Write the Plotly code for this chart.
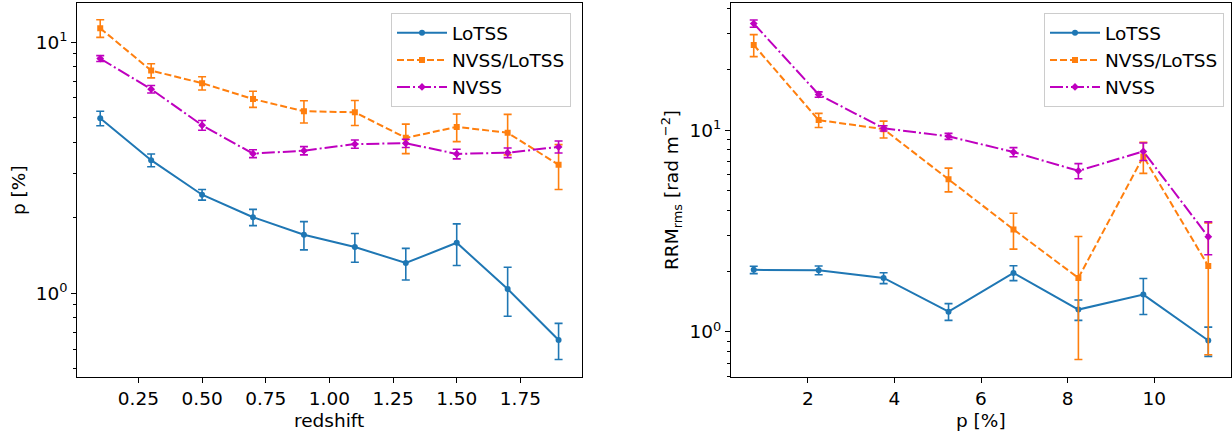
import plotly.graph_objects as go
from plotly.subplots import make_subplots

# ---- data: left panel (polarisation fraction vs redshift) ----
redshift = [0.1, 0.3, 0.5, 0.7, 0.9, 1.1, 1.3, 1.5, 1.7, 1.9]
p_lotss = [4.98, 3.39, 2.47, 2.01, 1.71, 1.53, 1.32, 1.59, 1.04, 0.652]
p_lotss_err = [0.33, 0.20, 0.12, 0.15, 0.22, 0.20, 0.19, 0.30, 0.23, 0.107]
p_ratio = [11.37, 7.71, 6.87, 5.94, 5.31, 5.26, 4.16, 4.60, 4.36, 3.25]
p_ratio_err = [0.92, 0.50, 0.42, 0.44, 0.54, 0.60, 0.56, 0.58, 0.80, 0.66]
p_nvss = [8.61, 6.50, 4.67, 3.60, 3.70, 3.93, 3.96, 3.59, 3.63, 3.83]
p_nvss_err = [0.23, 0.22, 0.21, 0.13, 0.14, 0.15, 0.15, 0.16, 0.16, 0.21]

# ---- data: right panel (RRM_rms vs p) ----
pbin = [0.75, 2.25, 3.75, 5.25, 6.75, 8.25, 9.75, 11.25]
rrm_lotss = [2.03, 2.02, 1.85, 1.26, 1.96, 1.29, 1.53, 0.906]
rrm_lotss_err = [0.085, 0.10, 0.115, 0.12, 0.165, 0.15, 0.31, 0.15]
rrm_ratio = [26.4, 11.2, 10.1, 5.71, 3.22, 1.85, 7.4, 2.12]
rrm_ratio_err = [3.3, 0.9, 0.97, 0.77, 0.65, 1.12, 1.3, 1.35]
rrm_nvss = [33.7, 15.0, 10.2, 9.31, 7.78, 6.28, 7.84, 2.96]
rrm_nvss_err = [1.4, 0.45, 0.30, 0.32, 0.40, 0.54, 0.78, 0.55]

names = ["LoTSS", "NVSS/LoTSS", "NVSS"]
colors = ["#1f77b4", "#ff7f0e", "#bf00bf"]
dashes = ["solid", "7px,3px", "13px,3px,2px,3px"]
symbols = ["circle", "square", "diamond"]

FONT = "DejaVu Sans, Liberation Sans, sans-serif"
FS = 18.5

fig = make_subplots(rows=1, cols=2)

left_series = [(p_lotss, p_lotss_err), (p_ratio, p_ratio_err), (p_nvss, p_nvss_err)]
right_series = [(rrm_lotss, rrm_lotss_err), (rrm_ratio, rrm_ratio_err), (rrm_nvss, rrm_nvss_err)]

for col, xs, series, leg in [(1, redshift, left_series, "legend"), (2, pbin, right_series, "legend2")]:
    for i, (ys, es) in enumerate(series):
        fig.add_trace(go.Scatter(
            x=xs, y=ys, name=names[i], mode="lines+markers",
            line=dict(color=colors[i], width=2, dash=dashes[i]),
            marker=dict(color=colors[i], size=6, symbol=symbols[i]),
            error_y=dict(type="data", array=es, visible=True, color=colors[i],
                         thickness=1.6, width=4),
            legend=leg,
        ), row=1, col=col)

axis_common = dict(
    showline=True, mirror=True, linecolor="black", linewidth=1,
    ticks="outside", ticklen=5, tickwidth=1, tickcolor="black",
    showgrid=False, zeroline=False, automargin=False,
    tickfont=dict(family=FONT, size=FS, color="black"),
)

ydom = [1 - 376.7 / 436, 1 - 3.3 / 436]

legend_common = dict(
    yanchor="top", xanchor="right",
    bgcolor="rgba(255,255,255,0.8)", bordercolor="#cccccc", borderwidth=1,
    font=dict(family=FONT, size=FS, color="black"), itemwidth=50,
    tracegroupgap=4,
)

fig.update_layout(
    width=1232, height=436,
    margin=dict(l=0, r=0, t=0, b=0),
    paper_bgcolor="white", plot_bgcolor="white",
    font=dict(family=FONT, size=FS, color="black"),
    xaxis=dict(domain=[77.3 / 1232, 581.5 / 1232], range=[0.01, 1.99],
               tickvals=[0.25, 0.5, 0.75, 1.0, 1.25, 1.5, 1.75],
               ticktext=["0.25", "0.50", "0.75", "1.00", "1.25", "1.50", "1.75"],
               **axis_common),
    yaxis=dict(domain=ydom, type="log", range=[-0.332, 1.155],
               tickvals=[1, 10], ticktext=["10<sup>0</sup>", "10<sup>1</sup>"],
               minor=dict(tickvals=[0.5, 0.6, 0.7, 0.8, 0.9, 2, 3, 4, 5, 6, 7, 8, 9],
                          ticks="outside", ticklen=3, tickwidth=0.8, tickcolor="black",
                          showgrid=False),
               **axis_common),
    xaxis2=dict(domain=[731 / 1232, 1231 / 1232], range=[0.225, 11.775],
                tickvals=[2, 4, 6, 8, 10], ticktext=["2", "4", "6", "8", "10"],
                **axis_common),
    yaxis2=dict(domain=ydom, type="log", range=[-0.222, 1.628],
                tickvals=[1, 10], ticktext=["10<sup>0</sup>", "10<sup>1</sup>"],
                minor=dict(tickvals=[0.6, 0.7, 0.8, 0.9, 2, 3, 4, 5, 6, 7, 8, 9, 20, 30, 40],
                           ticks="outside", ticklen=3, tickwidth=0.8, tickcolor="black",
                           showgrid=False),
                **axis_common),
    legend=dict(x=571 / 1232, y=1 - 13.3 / 436, **legend_common),
    legend2=dict(x=1224 / 1232, y=1 - 13.3 / 436, **legend_common),
    showlegend=True,
)

ann_font = dict(family=FONT, size=FS, color="black")
fig.add_annotation(text="p [%]", x=19 / 1232, y=1 - 190 / 436, xref="paper", yref="paper",
                   textangle=-90, showarrow=False, font=ann_font, xanchor="center", yanchor="middle")
fig.add_annotation(text="redshift", x=329 / 1232, y=1 - 420 / 436, xref="paper", yref="paper",
                   showarrow=False, font=ann_font, xanchor="center", yanchor="middle")
fig.add_annotation(text="RRM<sub>rms</sub> [rad m<sup>\u22122</sup>]", x=672 / 1232, y=1 - 190 / 436,
                   xref="paper", yref="paper", textangle=-90, showarrow=False, font=ann_font,
                   xanchor="center", yanchor="middle")
fig.add_annotation(text="p [%]", x=981 / 1232, y=1 - 420 / 436, xref="paper", yref="paper",
                   showarrow=False, font=ann_font, xanchor="center", yanchor="middle")

fig.write_html("out.html", config={"displayModeBar": False},
               post_script="document.body.style.margin='0';document.body.style.overflow='hidden';")
